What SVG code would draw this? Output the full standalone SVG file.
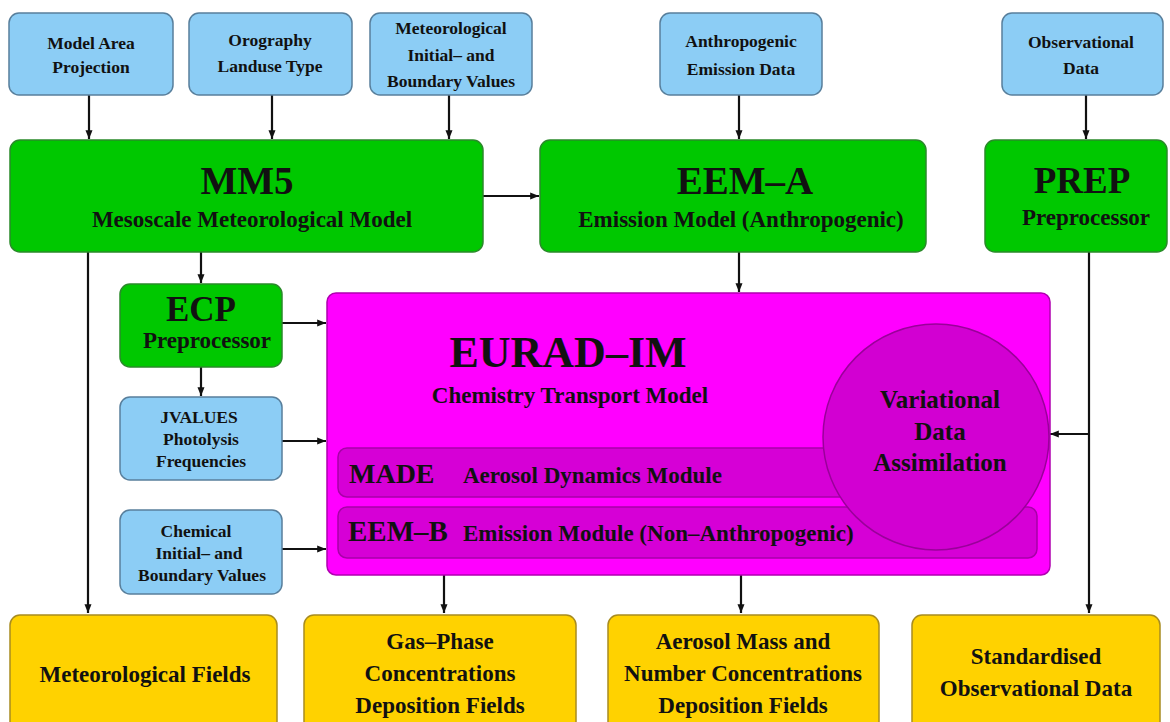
<svg xmlns="http://www.w3.org/2000/svg" width="1170" height="722" viewBox="0 0 1170 722">
<defs>
<marker id="ah" viewBox="0 0 10 10" refX="10" refY="5" markerWidth="4" markerHeight="4" orient="auto" markerUnits="strokeWidth"><path d="M0,1 L10,5 L0,9 z" fill="#111"/></marker>
<style>
.blue{fill:#8ccdf5;stroke:#587f9c;stroke-width:1.5}
.green{fill:#00c800;stroke:#2a8a2a;stroke-width:1.5}
.mag{fill:#ff00ff;stroke:#b000b0;stroke-width:1.5}
.strip{fill:#d600d6;stroke:#a800a8;stroke-width:1.5}
.circ{fill:#d200d2;stroke:#9a009a;stroke-width:1.5}
.yel{fill:#ffd200;stroke:#a88c20;stroke-width:1.5}
text{font-family:"Liberation Serif","Times New Roman",serif;font-weight:bold;fill:#111;text-anchor:middle}
.s17{font-size:17.5px}
.s23{font-size:23px}
.big{font-size:39px}
.con line{stroke:#111;stroke-width:2.2;fill:none}
</style>
</defs>
<rect width="1170" height="722" fill="#fff"/>

<g class="con">
<line x1="89" y1="95" x2="89" y2="139" marker-end="url(#ah)"/>
<line x1="272" y1="95" x2="272" y2="139" marker-end="url(#ah)"/>
<line x1="449" y1="95" x2="449" y2="139" marker-end="url(#ah)"/>
<line x1="739" y1="95" x2="739" y2="139" marker-end="url(#ah)"/>
<line x1="1086" y1="95" x2="1086" y2="139" marker-end="url(#ah)"/>
<line x1="483" y1="196" x2="539" y2="196" marker-end="url(#ah)"/>
<line x1="201" y1="252" x2="201" y2="283" marker-end="url(#ah)"/>
<line x1="739" y1="252" x2="739" y2="292" marker-end="url(#ah)"/>
<line x1="88" y1="252" x2="88" y2="613" marker-end="url(#ah)"/>
<line x1="282" y1="323" x2="326" y2="323" marker-end="url(#ah)"/>
<line x1="201" y1="367" x2="201" y2="396" marker-end="url(#ah)"/>
<line x1="282" y1="441" x2="326" y2="441" marker-end="url(#ah)"/>
<line x1="282" y1="549" x2="326" y2="549" marker-end="url(#ah)"/>
<line x1="1089" y1="252" x2="1089" y2="613" marker-end="url(#ah)"/>
<line x1="1089" y1="434" x2="1050" y2="434" marker-end="url(#ah)"/>
<line x1="444" y1="575" x2="444" y2="613" marker-end="url(#ah)"/>
<line x1="741" y1="575" x2="741" y2="613" marker-end="url(#ah)"/>
</g>

<g id="n-model-area"><rect class="blue" x="9" y="13" width="164" height="82" rx="10"/>
<text class="s17" x="91" y="49">Model Area</text><text class="s17" x="91" y="73">Projection</text></g>
<g id="n-orography"><rect class="blue" x="189" y="13" width="163" height="82" rx="10"/>
<text class="s17" x="270" y="46">Orography</text><text class="s17" x="270" y="72">Landuse Type</text></g>
<g id="n-met-init"><rect class="blue" x="370" y="13" width="162" height="82" rx="10"/>
<text class="s17" x="451" y="34">Meteorological</text><text class="s17" x="451" y="61">Initial– and</text><text class="s17" x="451" y="87">Boundary Values</text></g>
<g id="n-anthro"><rect class="blue" x="660" y="13" width="162" height="82" rx="10"/>
<text class="s17" x="741" y="47">Anthropogenic</text><text class="s17" x="741" y="75">Emission Data</text></g>
<g id="n-obs"><rect class="blue" x="1002" y="13" width="161" height="82" rx="10"/>
<text class="s17" x="1081" y="48">Observational</text><text class="s17" x="1081" y="74">Data</text></g>

<g id="n-mm5"><rect class="green" x="10" y="140" width="473" height="112" rx="10"/>
<text class="big" x="247" y="194">MM5</text><text class="s23" x="252" y="227">Mesoscale Meteorological Model</text></g>
<g id="n-eema"><rect class="green" x="540" y="140" width="386" height="112" rx="10"/>
<text class="big" x="745" y="194">EEM–A</text><text class="s23" x="741" y="227">Emission Model (Anthropogenic)</text></g>
<g id="n-prep"><rect class="green" x="985" y="140" width="182" height="112" rx="10"/>
<text style="font-size:37px" x="1082" y="193">PREP</text><text class="s23" x="1086" y="225">Preprocessor</text></g>

<g id="n-ecp"><rect class="green" x="120" y="284" width="162" height="83" rx="10"/>
<text style="font-size:35px" x="201" y="321">ECP</text><text class="s23" x="207" y="348">Preprocessor</text></g>
<g id="n-jvalues"><rect class="blue" x="120" y="397" width="162" height="83" rx="10"/>
<text class="s17" x="199" y="423">JVALUES</text><text class="s17" x="201" y="445">Photolysis</text><text class="s17" x="201" y="467">Frequencies</text></g>
<g id="n-chem-init"><rect class="blue" x="120" y="510" width="162" height="84" rx="10"/>
<text class="s17" x="196" y="537">Chemical</text><text class="s17" x="199" y="559">Initial– and</text><text class="s17" x="202" y="581">Boundary Values</text></g>

<g id="n-eurad"><rect class="mag" x="327" y="293" width="723" height="282" rx="9"/>
<text style="font-size:44px" x="568" y="367">EURAD–IM</text>
<text class="s23" x="570" y="403">Chemistry Transport Model</text></g>
<g id="n-made"><rect class="strip" x="338" y="448" width="580" height="49" rx="9"/>
<text style="font-size:28px;text-anchor:start" x="349" y="483">MADE</text>
<text class="s23" style="text-anchor:start" x="463" y="483">Aerosol Dynamics Module</text></g>
<g id="n-eemb"><rect class="strip" x="338" y="507" width="699" height="51" rx="9"/>
<text style="font-size:29px;text-anchor:start" x="348" y="541">EEM–B</text>
<text class="s23" style="text-anchor:start" x="463" y="541">Emission Module (Non–Anthropogenic)</text></g>
<g id="n-vda"><circle class="circ" cx="936" cy="437" r="113"/>
<text style="font-size:25px" x="940" y="408">Variational</text><text style="font-size:25px" x="940" y="440">Data</text><text style="font-size:25px" x="940" y="471">Assimilation</text></g>

<g id="n-metfields"><rect class="yel" x="10" y="615" width="267" height="120" rx="10"/>
<text class="s23" x="145" y="682">Meteorological Fields</text></g>
<g id="n-gas"><rect class="yel" x="304" y="615" width="272" height="120" rx="10"/>
<text class="s23" x="440" y="649">Gas–Phase</text><text class="s23" x="440" y="681">Concentrations</text><text class="s23" x="440" y="713">Deposition Fields</text></g>
<g id="n-aerosol"><rect class="yel" x="608" y="615" width="271" height="120" rx="10"/>
<text class="s23" x="743" y="649">Aerosol Mass and</text><text class="s23" x="743" y="681">Number Concentrations</text><text class="s23" x="743" y="713">Deposition Fields</text></g>
<g id="n-std"><rect class="yel" x="912" y="615" width="248" height="120" rx="10"/>
<text class="s23" x="1036" y="664">Standardised</text><text class="s23" x="1036" y="696">Observational Data</text></g>
</svg>
